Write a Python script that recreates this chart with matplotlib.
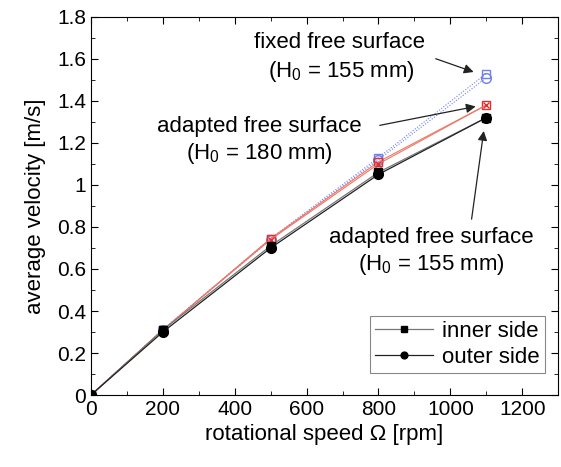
import matplotlib.pyplot as plt
from matplotlib.ticker import MultipleLocator

plt.rcParams['font.family'] = ['Liberation Sans', 'DejaVu Sans']
plt.rcParams['mathtext.fontset'] = 'custom'
plt.rcParams['mathtext.rm'] = 'Liberation Sans'
plt.rcParams['mathtext.it'] = 'Liberation Sans:italic'

speed = [0, 200, 500, 800, 1100]
inner_155 = [0, 0.31, 0.71, 1.06, 1.32]
outer_155 = [0, 0.30, 0.70, 1.05, 1.32]
inner_180 = [0, 0.31, 0.745, 1.11, 1.38]
outer_180 = [0, 0.31, 0.74, 1.10, 1.38]
inner_fixed = [0, 0.31, 0.745, 1.13, 1.53]
outer_fixed = [0, 0.31, 0.74, 1.12, 1.51]

fig = plt.figure(figsize=(5.61, 4.67), dpi=100)
ax = fig.add_axes([0.162, 0.154, 0.833, 0.81])

# fixed free surface (blue, dotted)
ax.plot(speed, inner_fixed, color='#7080f0', lw=0.8, dashes=(1, 1.5), marker='s', ms=6,
        mfc='none', mec='#6f7ff0', mew=1)
ax.plot(speed, outer_fixed, color='#7080f0', lw=0.8, dashes=(1, 1.5), marker='o', ms=7,
        mfc='none', mec='#6f7ff0', mew=1)

# adapted 180 mm (red)
ax.plot(speed, inner_180, '-', color='#ee7766', lw=0.8, marker='s', ms=6,
        mfc='none', mec='#e03030', mew=1)
ax.plot(speed, outer_180, '-', color='#ee7766', lw=0.8, marker='x', ms=5,
        mec='#e03030', mew=1)

# adapted 155 mm (black)
ax.plot(speed, inner_155, '-', color='#777777', lw=0.9, marker='s', ms=6,
        mfc='black', mec='black', label='inner side')
ax.plot(speed, outer_155, '-', color='#222222', lw=0.9, marker='o', ms=7,
        mfc='black', mec='black', label='outer side')

ax.set_xlim(0, 1300)
ax.set_ylim(0, 1.8)
ax.xaxis.set_major_locator(MultipleLocator(200))
ax.xaxis.set_minor_locator(MultipleLocator(100))
ax.yaxis.set_minor_locator(MultipleLocator(0.1))
ax.set_yticks([0, 0.2, 0.4, 0.6, 0.8, 1, 1.2, 1.4, 1.6, 1.8])
ax.set_yticklabels(['0', '0.2', '0.4', '0.6', '0.8', '1', '1.2', '1.4', '1.6', '1.8'])
ax.tick_params(which='both', direction='in', top=True, right=True, labelsize=15)
ax.tick_params(which='major', length=5)
ax.tick_params(which='minor', length=3)

ax.set_xlabel('rotational speed Ω [rpm]', fontsize=16, labelpad=4)
ax.set_ylabel('average velocity [m/s]', fontsize=16, labelpad=8)

fs = 16
arrow = dict(arrowstyle='-|>', color='#222222', lw=0.9, mutation_scale=14)
ax.annotate('', xy=(1072, 1.533), xytext=(952, 1.605), arrowprops=arrow)
ax.text(693, 1.68, 'fixed free surface', fontsize=fs, ha='center', va='center')
ax.text(696, 1.54, '(H$_\\mathrm{0}$ = 155 mm)', fontsize=fs, ha='center', va='center')

ax.annotate('', xy=(1078, 1.376), xytext=(796, 1.281), arrowprops=arrow)
ax.text(468, 1.276, 'adapted free surface', fontsize=fs, ha='center', va='center')
ax.text(470, 1.15, '(H$_\\mathrm{0}$ = 180 mm)', fontsize=fs, ha='center', va='center')

ax.annotate('', xy=(1094, 1.27), xytext=(1058, 0.824), arrowprops=arrow)
ax.text(946, 0.752, 'adapted free surface', fontsize=fs, ha='center', va='center')
ax.text(948, 0.62, '(H$_\\mathrm{0}$ = 155 mm)', fontsize=fs, ha='center', va='center')

leg = ax.legend(loc='lower right', bbox_to_anchor=(0.972, 0.058), borderaxespad=0,
                fontsize=fs, fancybox=False, edgecolor='#888888', framealpha=1,
                handlelength=2.6, handletextpad=0.4, labelspacing=0.2,
                borderpad=0.25, markerscale=0.7)
leg.get_frame().set_linewidth(0.8)

fig.savefig('out.png', dpi=100)
